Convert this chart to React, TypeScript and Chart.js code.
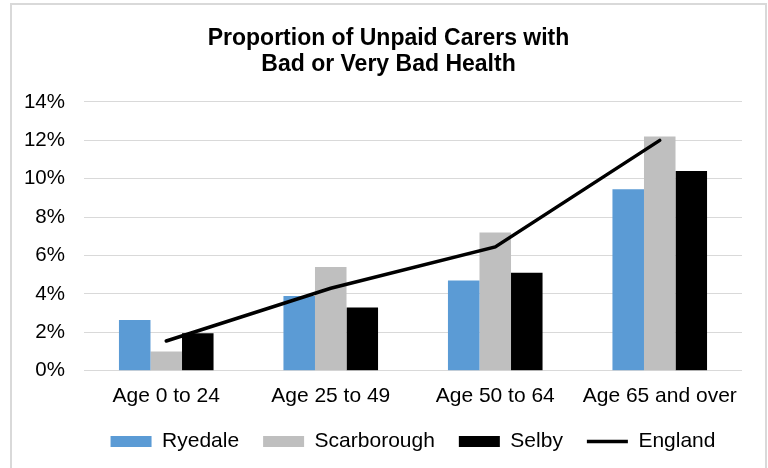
import React, { useEffect, useRef } from "react";
import { Chart, registerables } from "chart.js";

Chart.register(...registerables);

const categories = ["Age 0 to 24", "Age 25 to 49", "Age 50 to 64", "Age 65 and over"];
const ryedale = [2.65, 3.9, 4.7, 9.45];
const scarborough = [1.0, 5.4, 7.2, 12.2];
const selby = [1.95, 3.3, 5.1, 10.4];
const england = [1.55, 4.3, 6.45, 12.0];
const titleLines = ["Proportion of Unpaid Carers with", "Bad or Very Bad Health"];
const yTicks = { min: 0, max: 14, step: 2 };

const FONT = "'Liberation Sans', Arial, sans-serif";

const legendShift = {
  id: "legendShift",
  afterLayout(chart: any) {
    const lg = chart.legend;
    if (lg) {
      lg.top -= 15;
      lg.bottom -= 15;
    }
  },
};

export default function App() {
  const ref = useRef<HTMLCanvasElement | null>(null);

  useEffect(() => {
    if (!ref.current) return;
    const chart = new Chart(ref.current, {
      type: "bar",
      data: {
        labels: categories,
        datasets: [
          {
            label: "Ryedale",
            data: ryedale,
            backgroundColor: "#5B9BD5",
            borderWidth: 0,
            pointStyle: "rect",
            order: 1,
          } as any,
          {
            label: "Scarborough",
            data: scarborough,
            backgroundColor: "#BFBFBF",
            borderWidth: 0,
            pointStyle: "rect",
            order: 1,
          } as any,
          {
            label: "Selby",
            data: selby,
            backgroundColor: "#000000",
            borderWidth: 0,
            pointStyle: "rect",
            order: 1,
          } as any,
          {
            type: "line",
            label: "England",
            data: england,
            borderColor: "#000000",
            backgroundColor: "#000000",
            borderWidth: 3.5,
            pointRadius: 0,
            pointHoverRadius: 0,
            pointStyle: "line",
            tension: 0,
            borderCapStyle: "round",
            order: 0,
          } as any,
        ],
      },
      options: {
        responsive: false,
        animation: false,
        layout: { padding: { left: 12, right: 3, top: 5, bottom: -9 } },
        datasets: {
          bar: { categoryPercentage: 0.575, barPercentage: 1 },
        } as any,
        scales: {
          x: {
            grid: { display: false, drawTicks: false },
            border: { display: false },
            ticks: {
              color: "#000",
              font: { family: FONT, size: 21 },
              padding: 13,
              maxRotation: 0,
            },
          },
          y: {
            min: yTicks.min,
            max: yTicks.max,
            grid: { color: "#D9D9D9", lineWidth: 1, drawTicks: false },
            border: { display: false },
            ticks: {
              stepSize: yTicks.step,
              color: "#000",
              font: { family: FONT, size: 20.5 },
              padding: 19,
              callback: (v: any) => v + "%",
            },
            afterFit: (s: any) => {
              s.width = 72;
            },
          },
          yRight: {
            type: "linear",
            position: "right",
            display: true,
            grid: { display: false, drawTicks: false },
            border: { display: false },
            ticks: { display: false },
            afterFit: (s: any) => {
              s.width = 23;
            },
          },
        },
        plugins: {
          title: {
            display: true,
            text: titleLines,
            color: "#000",
            font: { family: FONT, size: 23, weight: "bold", lineHeight: 1.13 },
            padding: { top: 21, bottom: 24 },
          },
          legend: {
            position: "bottom",
            fullSize: false,
            labels: {
              usePointStyle: true,
              pointStyleWidth: 41,
              boxHeight: 11,
              padding: 24,
              color: "#000",
              font: { family: FONT, size: 21 },
              sort: (a: any, b: any) => a.datasetIndex - b.datasetIndex,
            },
          },
          tooltip: { enabled: false },
        },
      } as any,
      plugins: [legendShift],
    });
    return () => chart.destroy();
  }, []);

  return (
    <div
      style={{
        position: "fixed",
        left: 0,
        top: 0,
        width: 768,
        height: 468,
        overflow: "hidden",
        background: "#fff",
      }}
    >
      <div
        style={{
          position: "absolute",
          left: 10,
          top: 3,
          width: 753,
          height: 520,
          border: "2px solid #D9D9D9",
        }}
      />
      <canvas
        ref={ref}
        width={768}
        height={468}
        style={{ position: "absolute", left: 0, top: 0, width: 768, height: 468 }}
      />
    </div>
  );
}
